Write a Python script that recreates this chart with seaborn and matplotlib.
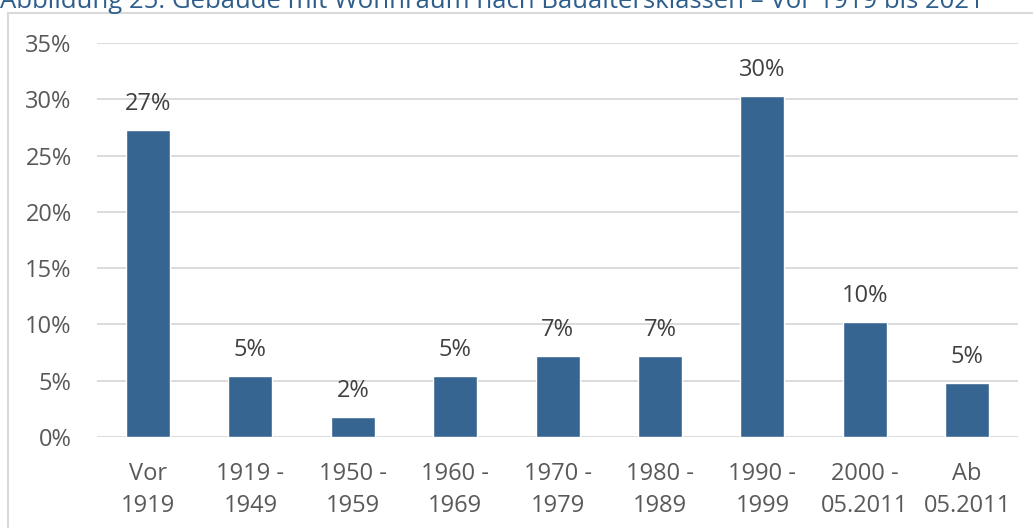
import matplotlib
matplotlib.use("Agg")
import matplotlib.pyplot as plt
import seaborn as sns
import pandas as pd
from matplotlib.patches import Rectangle

categories = ["Vor\n1919", "1919 -\n1949", "1950 -\n1959", "1960 -\n1969", "1970 -\n1979",
              "1980 -\n1989", "1990 -\n1999", "2000 -\n05.2011", "Ab\n05.2011"]
values = [27.3, 5.4, 1.8, 5.4, 7.2, 7.2, 30.3, 10.2, 4.8]
labels = ["27%", "5%", "2%", "5%", "7%", "7%", "30%", "10%", "5%"]
yticks = [0, 5, 10, 15, 20, 25, 30, 35]
title = "Abbildung 25: Gebäude mit Wohnraum nach Baualtersklassen – Vor 1919 bis 2021"

sns.set_theme(style="white")
plt.rcParams['font.family'] = ['Open Sans', 'DejaVu Sans']

W, H = 1033, 528
fig = plt.figure(figsize=(W / 100, H / 100), dpi=100)
ax = fig.add_axes([96.8 / W, 1 - 437 / H, (1018.4 - 96.8) / W, (437 - 43) / H])

df = pd.DataFrame({"cat": categories, "val": values})
sns.barplot(data=df, x="cat", y="val", color="#376591", saturation=1, width=0.43, ax=ax, zorder=3)

ax.set_ylim(0, 35)
ax.set_xlim(-0.5, len(categories) - 0.5)
ax.set_yticks(yticks)
ax.set_yticklabels([f"{t}%" for t in yticks])
ax.yaxis.grid(True, color="#d9d9d9", linewidth=1.3, zorder=0)
ax.set_axisbelow(True)
for s in ax.spines.values():
    s.set_visible(False)
ax.tick_params(axis="both", length=0, labelsize=17, labelcolor="#595959")
ax.tick_params(axis="y", pad=18)
ax.tick_params(axis="x", pad=18)
for t in ax.get_xticklabels():
    t.set_linespacing(1.45)
ax.set_xlabel("")
ax.set_ylabel("")

for i, (v, lab) in enumerate(zip(values, labels)):
    ax.annotate(lab, (i, v), xytext=(0, 10), textcoords="offset points",
                ha="center", va="bottom", fontsize=17, color="#404040")

# outer frame
fig.patches.append(Rectangle((8 / W, -0.05), 1.1, 1 - 13 / H + 0.05, transform=fig.transFigure,
                             fill=False, edgecolor="#d9d9d9", linewidth=1.5))
fig.text(0 / W, 1 - 8 / H, title, ha="left", va="baseline", fontsize=18.5, color="#2e5e8c")

fig.savefig("out.png", dpi=100)
